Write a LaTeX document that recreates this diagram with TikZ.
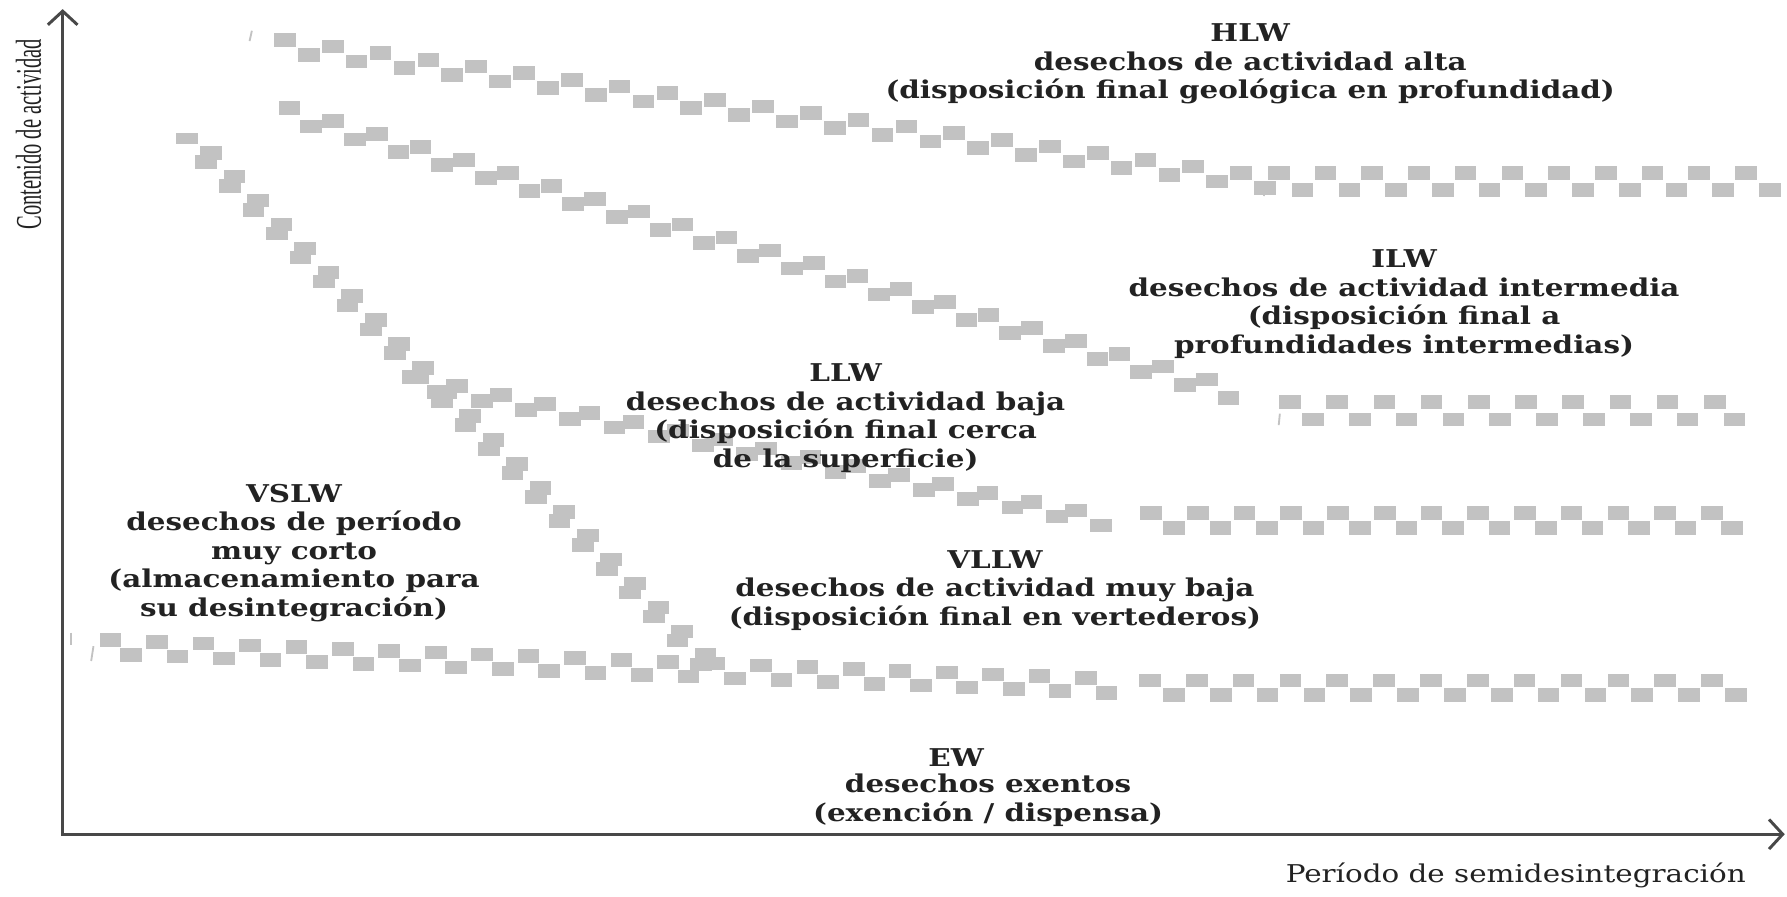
\documentclass[tikz,border=0pt]{standalone}
\usepackage{fontspec}
\usepackage{graphicx}
\setmainfont{DejaVu Serif}
\newfontfamily\widefont{DejaVu Serif}[FakeStretch=1.2]
\newfontfamily\narrowser{Liberation Serif}
\usetikzlibrary{arrows.meta,calc}
\definecolor{sqgray}{RGB}{194,194,194}
\definecolor{axgray}{RGB}{72,72,72}
\definecolor{ink}{RGB}{34,34,34}
\tikzset{
  sq/.style={fill=sqgray},
  axisline/.style={draw=axgray, line width=2.6pt, line join=miter},
  lbl/.style={font=\widefont\bfseries\fontsize{21.5}{25}\selectfont, text=ink, align=center, inner sep=0pt},
  xlab/.style={font=\widefont\fontsize{21.5}{25}\selectfont, text=ink, inner sep=0pt},
  ylab/.style={text=ink, inner sep=0pt},
  tickmark/.style={draw=sqgray, line width=1.6pt},
}
\newcommand\sqat[1]{\fill[sq] ($(#1)+(-9.5,-6)$) rectangle ++(19,12);}
% band: A, B, n, dx, dy
\newcommand\band[5]{%
  \foreach \k in {0,...,#3}{%
    \coordinate (bp) at ($(#1)!\k/#3!(#2)$);
    \sqat{bp}
    \coordinate (bq) at ($(bp)+(#4,#5)$);
    \sqat{bq}
  }}
% flat row: x0, y, last index, step
\newcommand\flatrow[4]{%
  \foreach \k in {0,...,#3}{\coordinate (fp) at ({#1+\k*#4},#2); \sqat{fp}}}
\begin{document}
\begin{tikzpicture}[x=1pt,y=-1pt]
\useasboundingbox[fill=white] (0,0) rectangle (1568,787);
% HLW boundary
\band{250,35}{1089,152}{20}{21}{13}
\flatrow{1122}{152}{10}{41}
\flatrow{1143}{167}{10}{41}
\draw[tickmark] (221,27) -- (219,36);
\draw[tickmark] (1110,162) -- (1109,172);
% ILW boundary
\band{254,95}{1059,333}{21}{19}{16}
\flatrow{1132}{353}{9}{41.4}
\flatrow{1152}{368}{9}{41.1}
\draw[tickmark] (1123,363) -- (1122,373);
% LLW boundary
\band{362,331}{944,448}{15}{22}{13}
\flatrow{1010}{450}{12}{41}
\flatrow{1030}{463}{12}{40.8}
% VLLW boundary
\band{97,561.5}{953,595}{21}{18}{13}
\flatrow{1009}{597}{12}{41.1}
\flatrow{1030}{610}{12}{41.1}
\draw[tickmark] (62,555) -- (62,566);
\draw[tickmark] (82,567) -- (80,580);
% VSLW boundary (steep)
\fill[sq] (154,117) rectangle (174,126);
\foreach \k in {0,...,21}{%
  \coordinate (sc) at ($(183,138)!\k/21!(617,579)$);
  \fill[sq] ($(sc)+(-7.5,-10)$) rectangle ++(19,12);
  \fill[sq] ($(sc)+(-11.5,-2)$) rectangle ++(19,12);
}
% axes
\coordinate (O) at (55,732);
\coordinate (yt) at (55,8);
\coordinate (xt) at (1566,732);
\draw[axisline, {Straight Barb[length=12pt,width=26pt]}-{Straight Barb[length=12pt,width=26pt]}] (yt) -- (O) -- (xt);
% labels
\node[lbl] (hlw) at (1097,56) {HLW\\desechos de actividad alta\\(disposición final geológica en profundidad)};
\node[lbl] (ilw) at (1232,267) {ILW\\desechos de actividad intermedia\\(disposición final a\\profundidades intermedias)};
\node[lbl] (llw) at (742,367) {LLW\\desechos de actividad baja\\(disposición final cerca\\de la superficie)};
\node[lbl] (vslw) at (258,485) {VSLW\\desechos de período\\muy corto\\(almacenamiento para\\su desintegración)};
\node[lbl] (vllw) at (873,518) {VLLW\\desechos de actividad muy baja\\(disposición final en vertederos)};
\node[lbl] (ew) at (839,665) {EW};
\node[lbl] (ewt) at (867,702) {desechos exentos\\(exención / dispensa)};
\node[xlab] (xl) at (1330,768) {Período de semidesintegración};
\node[ylab, rotate=90] (yl) at (25,118) {\resizebox{167pt}{22pt}{\narrowser Contenido de actividad}};
\end{tikzpicture}
\end{document}
